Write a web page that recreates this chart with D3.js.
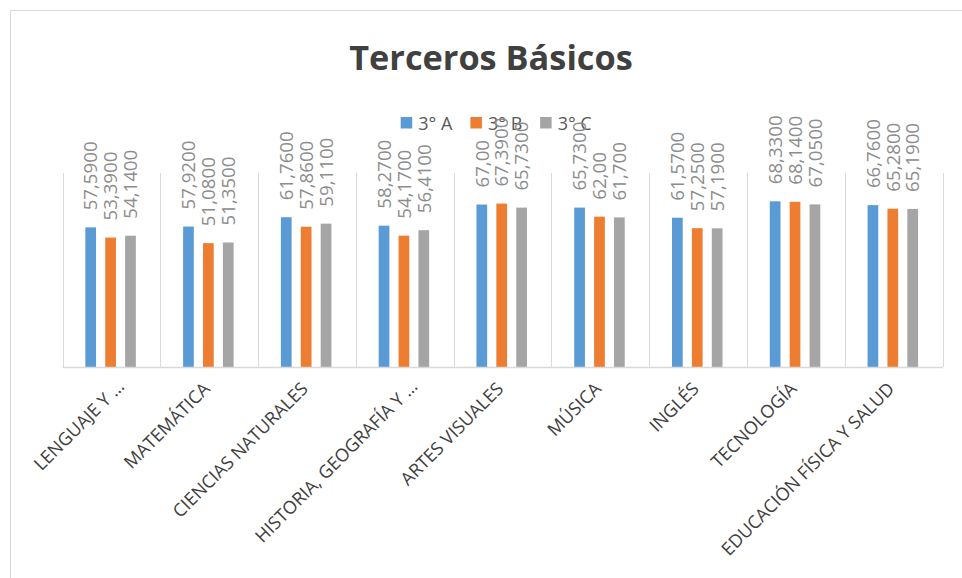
<!DOCTYPE html>
<html><head><meta charset="utf-8">
<script src="https://cdn.jsdelivr.net/npm/d3@7"></script>
<style>body{margin:0;background:#fff}svg{display:block}</style>
</head><body><svg id="c" width="962" height="578"></svg>
<script>
const title = "Terceros Básicos";
const categories = ["LENGUAJE Y …","MATEMÁTICA","CIENCIAS NATURALES","HISTORIA, GEOGRAFÍA Y …","ARTES VISUALES","MÚSICA","INGLÉS","TECNOLOGÍA","EDUCACIÓN FÍSICA Y SALUD"];
const seriesNames = ["3° A","3° B","3° C"];
const valuesA = [57.59,57.92,61.76,58.27,67.00,65.73,61.57,68.33,66.76];
const valuesB = [53.39,51.08,57.86,54.17,67.39,62.00,57.25,68.14,65.28];
const valuesC = [54.14,51.35,59.11,56.41,65.73,61.70,57.19,67.05,65.19];
const labelsA = ["57,5900","57,9200","61,7600","58,2700","67,00","65,7300","61,5700","68,3300","66,7600"];
const labelsB = ["53,3900","51,0800","57,8600","54,1700","67,3900","62,00","57,2500","68,1400","65,2800"];
const labelsC = ["54,1400","51,3500","59,1100","56,4100","65,7300","61,700","57,1900","67,0500","65,1900"];
const colors = ["#5b9bd5","#ed7d31","#a5a5a5"];
const yDomain = [0, 80];

const series = [
  {name: seriesNames[0], values: valuesA, labels: labelsA, color: colors[0]},
  {name: seriesNames[1], values: valuesB, labels: labelsB, color: colors[1]},
  {name: seriesNames[2], values: valuesC, labels: labelsC, color: colors[2]}
];

const svg = d3.select("#c");
const font = "'Open Sans', 'DejaVu Sans', sans-serif";

// chart border
svg.append("rect").attr("x",10.5).attr("y",10.5).attr("width",1000).attr("height",1000)
  .attr("fill","#fff").attr("stroke","#d9d9d9").attr("stroke-width",1);

const plot = {left: 62.5, right: 942.5, top: 173, bottom: 367};
const x0 = d3.scaleBand().domain(categories).range([plot.left, plot.right]).paddingInner(0).paddingOuter(0);
const bw = x0.bandwidth();
const groupW = 50.5;
const x1 = d3.scaleBand().domain(seriesNames).range([bw/2 - groupW/2 - 0.8, bw/2 + groupW/2 - 0.8]).paddingInner(0.462).paddingOuter(0);
const y = d3.scaleLinear().domain(yDomain).range([plot.bottom, plot.top]);

// vertical category separators
const seps = categories.map(c => x0(c)).concat([plot.right]);
svg.append("g").selectAll("line").data(seps).join("line")
  .attr("x1", d => Math.round(d)+0.5).attr("x2", d => Math.round(d)+0.5)
  .attr("y1", y(yDomain[1])).attr("y2", y(0))
  .attr("stroke","#d9d9d9").attr("stroke-width",1);

// title
svg.append("text").attr("x",491).attr("y",69.5).attr("text-anchor","middle")
  .attr("font-family",font).attr("font-weight","bold").attr("font-size",34.3)
  .attr("fill","#404040").text(title);

// bars
const groups = svg.append("g").selectAll("g").data(series).join("g").attr("fill", d => d.color);
groups.selectAll("rect").data(s => s.values.map((v,i)=>({s, v, c: categories[i]}))).join("rect")
  .attr("x", d => x0(d.c) + x1(d.s.name))
  .attr("width", x1.bandwidth())
  .attr("y", d => y(d.v))
  .attr("height", d => y(0) - y(d.v));

// baseline
svg.append("line").attr("x1",plot.left).attr("x2",plot.right+0.5)
  .attr("y1",plot.bottom+0.5).attr("y2",plot.bottom+0.5)
  .attr("stroke","#d9d9d9").attr("stroke-width",1.5);

// x labels
svg.append("g").selectAll("text").data(categories).join("text")
  .attr("transform", d => {
    const extra = d.endsWith("…") ? 12 : 0;
    const px = x0(d) + bw/2 + 2 + extra, py = plot.bottom + 23 - extra*0.2;
    return `translate(${px},${py}) rotate(-45)`;
  })
  .attr("text-anchor","end").attr("font-family",font).attr("font-size",18)
  .attr("fill","#404040").text(d => d);

// legend
const legend = svg.append("g").selectAll("g").data(series).join("g")
  .attr("transform", (d,i) => `translate(${400.7 + i*69.7},0)`);
legend.append("rect").attr("x",0).attr("y",117).attr("width",11.5).attr("height",11.5).attr("fill", d => d.color);
legend.append("text").attr("x",17.6).attr("y",129.5).attr("font-family",font).attr("font-size",18)
  .attr("fill","#595959").text(d => d.name);

// value labels
const lab = svg.append("g");
series.forEach(s => {
  lab.selectAll(null).data(s.values.map((v,i)=>({v, c: categories[i], t: s.labels[i]}))).join("text")
    .attr("transform", d => `translate(${x0(d.c) + x1(s.name) + x1.bandwidth()/2},${y(d.v) - 17}) rotate(-90)`)
    .attr("dy","0.36em").attr("text-anchor","start")
    .attr("font-family",font).attr("font-size",18.7).attr("fill","#8c8c8c")
    .text(d => d.t);
});
</script></body></html>
